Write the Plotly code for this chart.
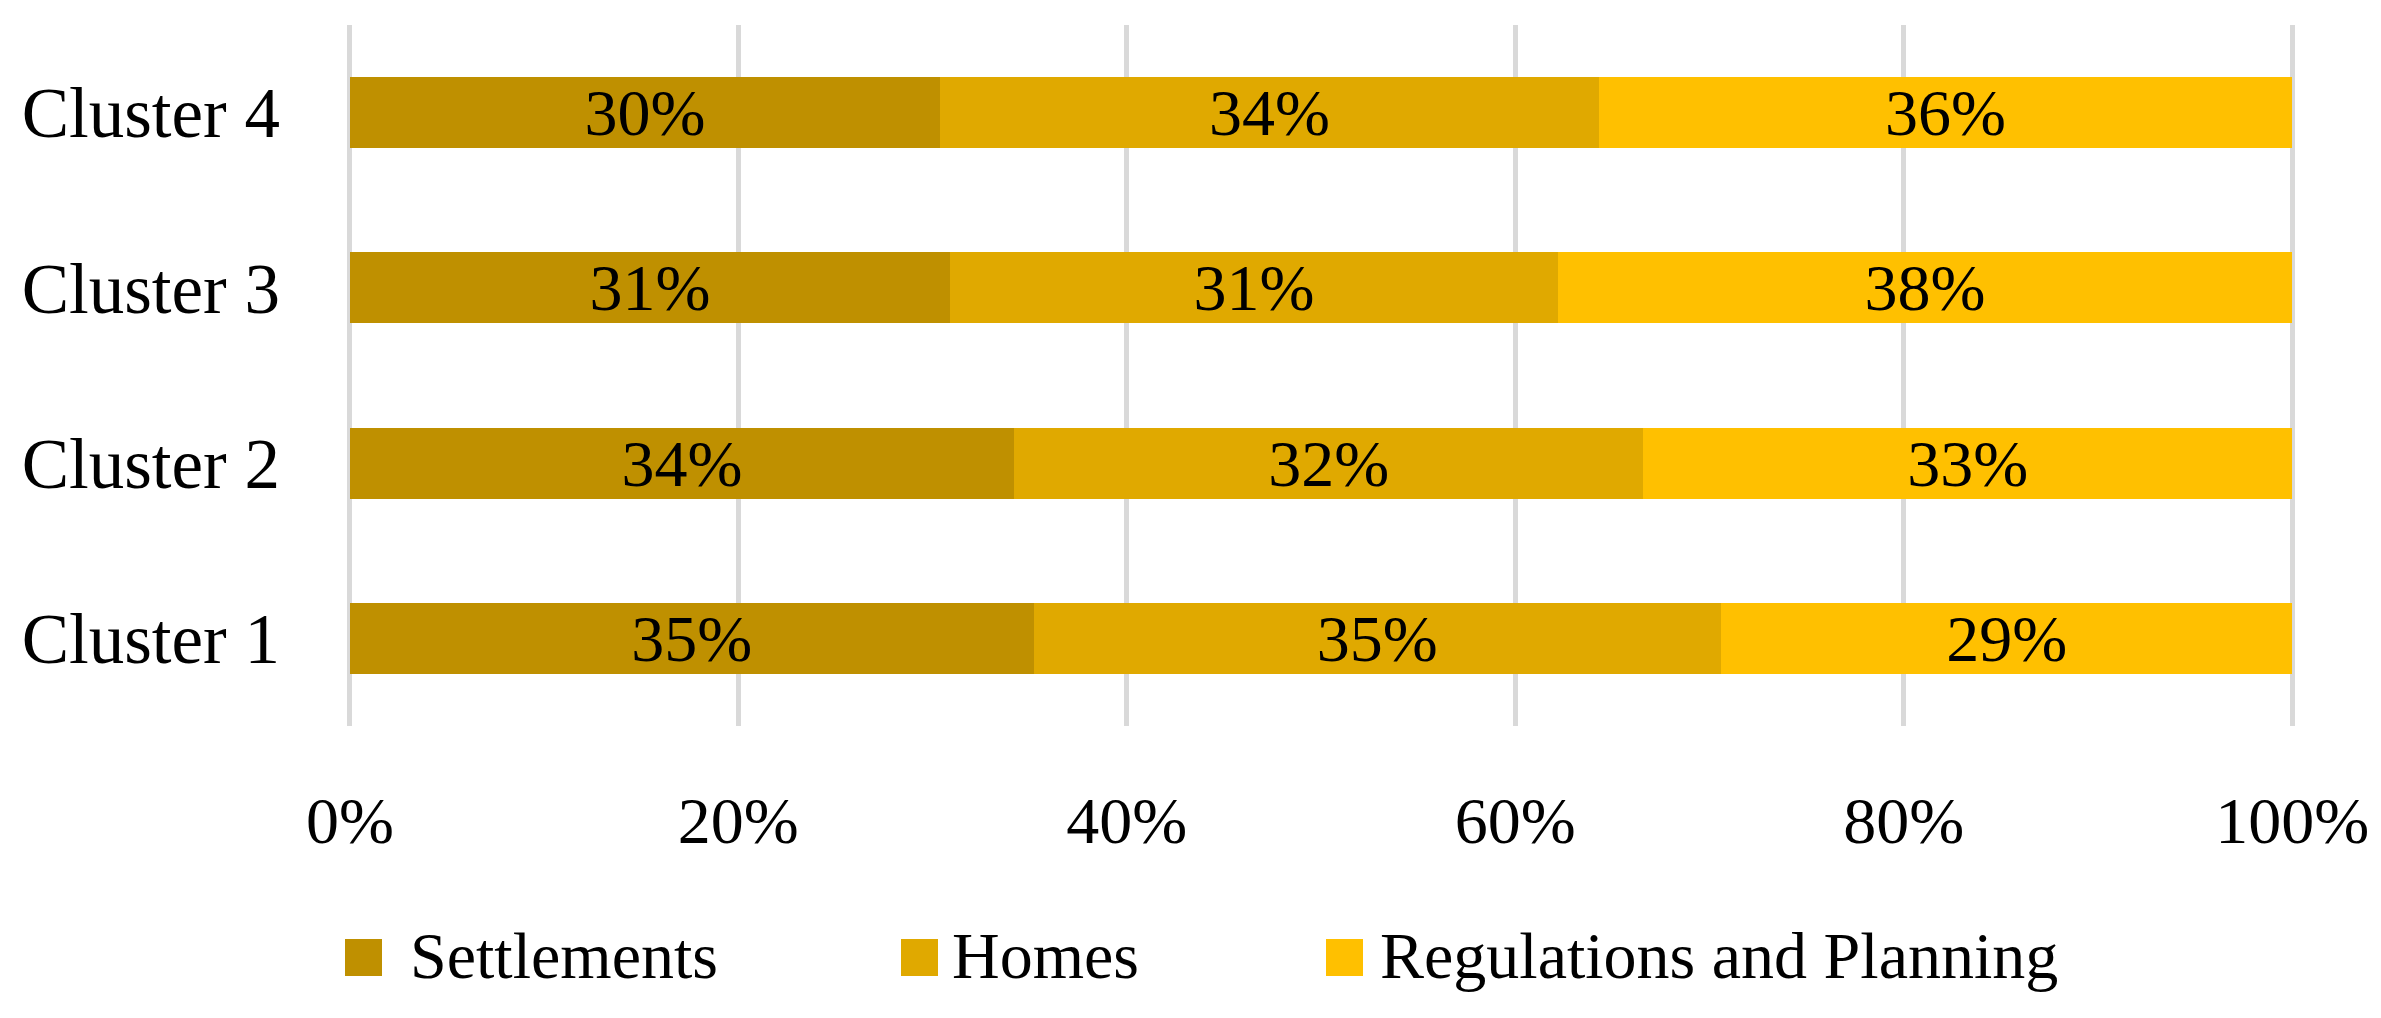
import plotly.graph_objects as go

clusters = ["Cluster 1", "Cluster 2", "Cluster 3", "Cluster 4"]
series_names = ["Settlements", "Homes", "Regulations and Planning"]
settlements = [35.2, 34.2, 30.9, 30.4]
homes = [35.4, 32.4, 31.3, 33.9]
regulations = [29.4, 33.4, 37.8, 35.7]
colors = ["#BF9000", "#E0A900", "#FFC000"]
x_ticks = [0, 20, 40, 60, 80, 100]

FONT = "Liberation Serif"
series_values = [settlements, homes, regulations]

fig = go.Figure()
for name, vals, col in zip(series_names, series_values, colors):
    fig.add_trace(go.Bar(
        y=clusters, x=vals, name=name, orientation="h",
        marker=dict(color=col, line=dict(width=0)),
        text=[f"{round(v)}%" for v in vals],
        textposition="inside", insidetextanchor="middle", textangle=0,
        textfont=dict(family=FONT, size=66, color="black"),
        showlegend=False,
    ))

# page body has an 8px margin, so the figure is laid out in (screen - 8) pixels;
# keep the page no larger than the window so no scrollbars appear
OFF = 8
W, H = 2365, 990
ml, mt = 337, 17
pw, ph = 1952, 701
mr, mb = W - ml - pw, H - mt - ph

def px_x(p):
    return (p - OFF - ml) / pw

def px_y(p):
    return (mt + ph - (p - OFF)) / ph

# manual legend (swatches + labels), built from the series arrays
sw_left = [345, 901, 1326]
txt_left = [408, 950, 1378]
shapes, annos = [], []
for name, col, sl, tl in zip(series_names, colors, sw_left, txt_left):
    shapes.append(dict(type="rect", xref="paper", yref="paper",
                       x0=px_x(sl), x1=px_x(sl + 37), y0=px_y(976), y1=px_y(939),
                       fillcolor=col, line=dict(width=0)))
    annos.append(dict(xref="paper", yref="paper", x=px_x(tl), y=px_y(955),
                      xanchor="left", yanchor="middle", showarrow=False,
                      text=name, font=dict(family=FONT, size=66, color="black")))

fig.update_layout(
    width=W, height=H,
    margin=dict(l=ml, r=mr, t=mt, b=mb, pad=0),
    barmode="stack", bargap=0.595,
    plot_bgcolor="white", paper_bgcolor="white",
    font=dict(family=FONT, size=66, color="black"),
    shapes=shapes, annotations=annos,
    uniformtext=dict(minsize=66, mode="show"),
)
fig.update_xaxes(range=[-0.25, 100.25], tickvals=x_ticks, ticktext=[f"{t}%" for t in x_ticks],
                 automargin=False,
                 showgrid=True, gridcolor="#D9D9D9", gridwidth=5,
                 zeroline=False, showline=False, ticks="", ticklabeloverflow="allow",
                 ticklabelstandoff=50, tickfont=dict(family=FONT, size=66, color="black"))
fig.update_yaxes(categoryorder="array", categoryarray=clusters,
                 automargin=False,
                 showgrid=False, zeroline=False, showline=False, ticks="",
                 ticklabelstandoff=64, tickfont=dict(family=FONT, size=71, color="black"))

fig.write_html("out.html")
